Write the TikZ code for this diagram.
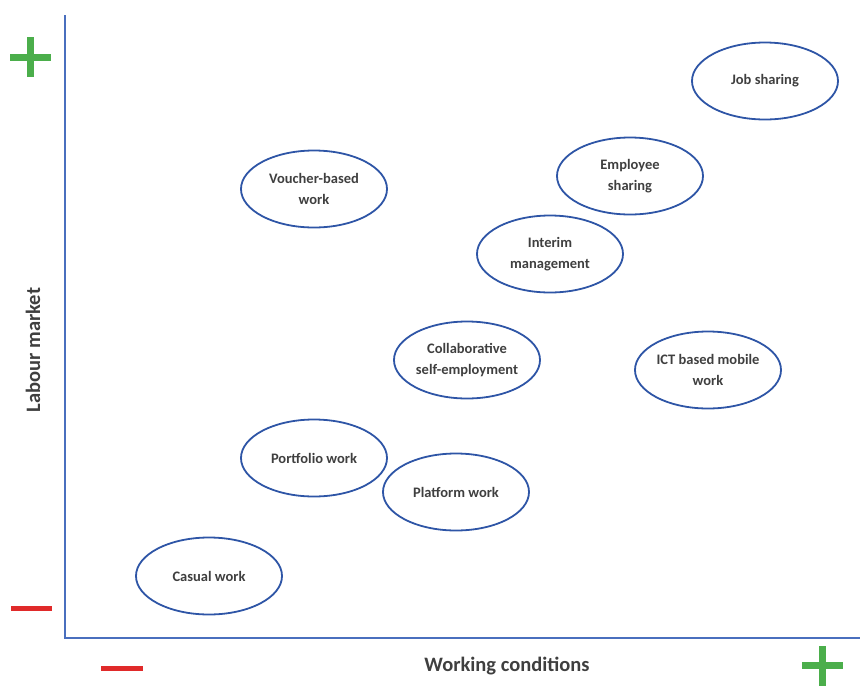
\documentclass[tikz,border=0pt]{standalone}
\usepackage{fontspec}
\setmainfont{Carlito}
\usetikzlibrary{shapes.geometric}
\definecolor{axisblue}{HTML}{4A6FBE}
\definecolor{ellblue}{HTML}{2E55A6}
\definecolor{txtgrey}{HTML}{3F3F3F}
\definecolor{plusgreen}{HTML}{4BAE4B}
\definecolor{minusred}{HTML}{E02A2A}
\tikzset{
  x=1pt, y=-1pt,
  item/.style={ellipse, draw=ellblue, line width=1.8pt, minimum width=146pt, minimum height=77pt, inner sep=0pt,
    align=center, font=\fontsize{14.5}{21}\selectfont\bfseries, text=txtgrey},
  axislabel/.style={font=\fontsize{20.5}{24}\selectfont\bfseries, text=txtgrey},
  axisline/.style={draw=axisblue, line width=2pt},
  plusbar/.style={draw=plusgreen, line width=7pt},
  minusbar/.style={draw=minusred, line width=5pt}
}
\begin{document}
\begin{tikzpicture}
\useasboundingbox (0,0) rectangle (860,686);
% axes
\coordinate (top) at (65,15);
\coordinate (origin) at (65,638);
\coordinate (right) at (860,638);
\draw[axisline] (top) -- (origin) -- (right);
% plus / minus marks
\coordinate (p1l) at (10,57); \coordinate (p1r) at (51,57);
\coordinate (p1t) at (30,37); \coordinate (p1b) at (30,77);
\draw[plusbar] (p1l) -- (p1r); \draw[plusbar] (p1t) -- (p1b);
\coordinate (p2l) at (802,665); \coordinate (p2r) at (843,665);
\coordinate (p2t) at (822,646); \coordinate (p2b) at (822,686);
\draw[plusbar] (p2l) -- (p2r); \draw[plusbar] (p2t) -- (p2b);
\coordinate (m1l) at (11,608); \coordinate (m1r) at (52,608);
\draw[minusbar] (m1l) -- (m1r);
\coordinate (m2l) at (101,668); \coordinate (m2r) at (143,668);
\draw[minusbar] (m2l) -- (m2r);
% axis labels
\node[axislabel] (xlab) at (507,666) {Working conditions};
\node[axislabel, rotate=90] (ylab) at (33,350) {Labour market};
% items
\node[item] (job) at (765,81) {Job sharing};
\node[item] (emp) at (630,176) {Employee\\sharing};
\node[item] (vou) at (314,189) {Voucher-based\\work};
\node[item] (int) at (550,254) {Interim\\management};
\node[item] (col) at (467,360) {Collaborative\\self-employment};
\node[item] (ict) at (708,370) {ICT based mobile\\work};
\node[item] (por) at (314,458) {Portfolio work};
\node[item] (pla) at (456,492) {Platform work};
\node[item] (cas) at (209,576) {Casual work};
\end{tikzpicture}
\end{document}
